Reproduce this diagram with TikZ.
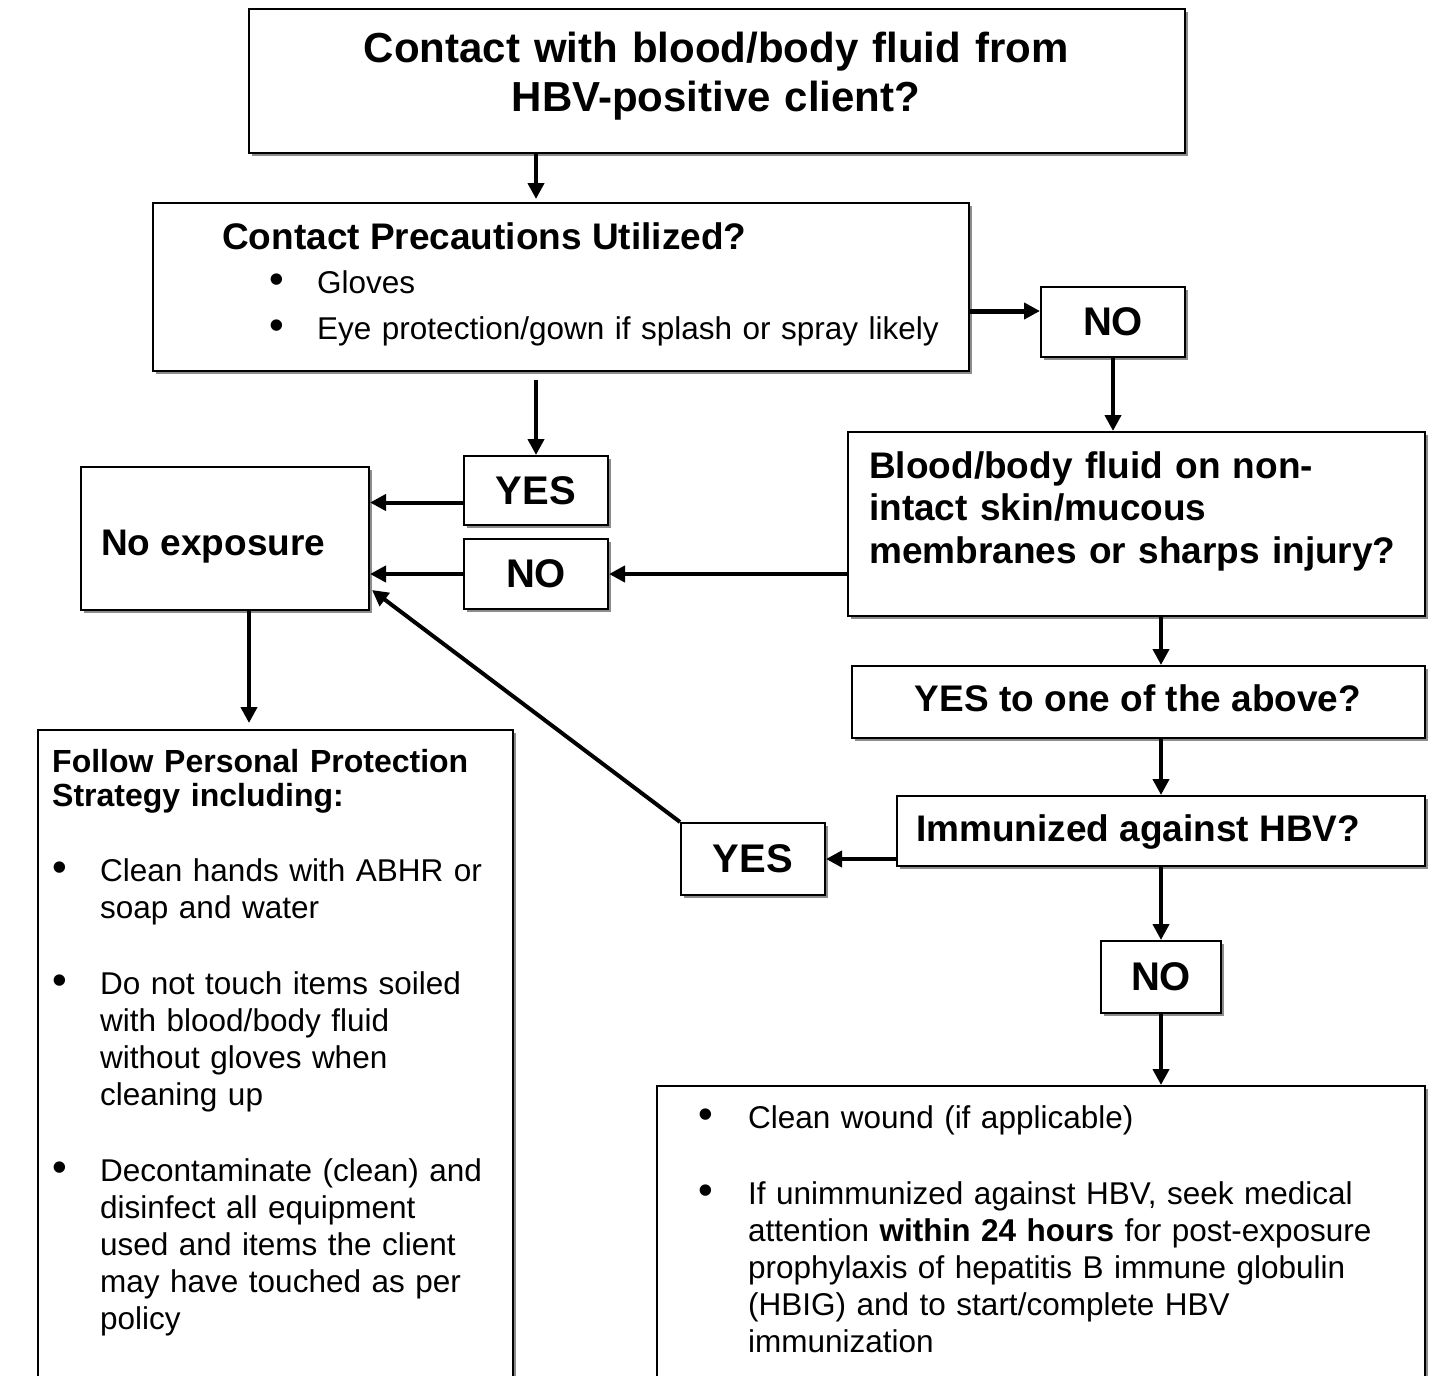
\documentclass[tikz,border=0pt]{standalone}
\usepackage{fontspec}
\setmainfont{Liberation Sans}
\usetikzlibrary{arrows.meta,calc,shadows}
\newcommand\myfs[2]{\fontsize{#1}{#2}\selectfont}
\tikzset{
  box/.style={draw, line width=2pt, fill=white, anchor=north west, inner sep=0pt,
    drop shadow={shadow xshift=2.5pt, shadow yshift=-2.5pt, fill=black!45, opacity=1}},
  lbl/.style={font=\bfseries\myfs{40}{46}},
  arr/.style={line width=4pt, -{Triangle[length=16pt,width=16pt]}},
  txt/.style={anchor=base west, inner sep=0pt, align=left},
  bul/.style={anchor=base, inner sep=0pt, font=\myfs{42}{37}},
}
\begin{document}
\begin{tikzpicture}[x=1pt,y=-1pt]
\useasboundingbox (0,0) rectangle (1430,1376);
\clip (0,0) rectangle (1430,1376);
\fill[white] (0,0) rectangle (1430,1376);

% boxes
\node[box, minimum width=936pt, minimum height=144pt] (title) at (248,8) {};
\node[box, minimum width=816pt, minimum height=168pt] (prec) at (152,202) {};
\node[box, lbl, minimum width=144pt, minimum height=70pt] (no1) at (1040,286) {NO};
\node[box, minimum width=577pt, minimum height=184pt] (blood) at (847,431) {};
\node[box, lbl, minimum width=144pt, minimum height=69pt] (yes1) at (463,455) {YES};
\node[box, lbl, minimum width=144pt, minimum height=70pt] (no2) at (463,538) {NO};
\node[box, minimum width=288pt, minimum height=143pt] (noexp) at (80,466) {};
\node[box, minimum width=475pt, minimum height=680pt] (pps) at (37,729) {};
\node[box, minimum width=573pt, minimum height=72pt] (yesone) at (851,665) {};
\node[box, minimum width=528pt, minimum height=70pt] (immun) at (896,795) {};
\node[box, lbl, minimum width=144pt, minimum height=72pt] (yes2) at (680,822) {YES};
\node[box, lbl, minimum width=120pt, minimum height=72pt] (no3) at (1100,940) {NO};
\node[box, minimum width=768pt, minimum height=330pt] (action) at (656,1085) {};

% texts
\node[txt, anchor=base, text width=900pt, align=center, font=\bfseries\myfs{42}{49}] (titletext) at (716,62)
  {Contact with blood/body fluid from\\HBV-positive client?};
\node[txt, font=\bfseries\myfs{37}{43}] (prectext) at (222,249) {Contact Precautions Utilized?};
\node[bul] (pb1) at (277,293) {•};
\node[bul] (pb2) at (277,339) {•};
\node[txt, text width=640pt, font=\myfs{31.5}{46}] (prectext2) at (317,293) {Gloves\\Eye protection/gown if splash or spray likely};
\node[txt, text width=560pt, font=\bfseries\myfs{37}{42.5}] (bloodtext) at (869,478)
  {Blood/body fluid on non-\\intact skin/mucous\\membranes or sharps injury?};
\node[txt, font=\bfseries\myfs{37}{43}] (noexptext) at (101,555) {No exposure};
\node[txt, anchor=base, font=\bfseries\myfs{37}{43}] (yesonetext) at (1138,711) {YES to one of the above?};
\node[txt, font=\bfseries\myfs{37}{43}] (immuntext) at (916,841) {Immunized against HBV?};
\node[txt, text width=460pt, font=\bfseries\myfs{32}{34}] (ppshead) at (52,772)
  {Follow Personal Protection\\Strategy including:};
\node[bul] (lb1) at (60,881) {•};
\node[bul] (lb2) at (60,994) {•};
\node[bul] (lb3) at (60,1181) {•};
\node[txt, text width=420pt, font=\myfs{31.5}{37}] (ppstext) at (100,881)
  {Clean hands with ABHR or\\soap and water\\[39pt]
   Do not touch items soiled\\with blood/body fluid\\without gloves when\\cleaning up\\[39pt]
   Decontaminate (clean) and\\disinfect all equipment\\used and items the client\\may have touched as per\\policy};
\node[bul] (rb1) at (706,1128) {•};
\node[bul] (rb2) at (706,1204) {•};
\node[txt, text width=670pt, font=\myfs{31.5}{37}] (actiontext) at (748,1128)
  {Clean wound (if applicable)\\[39pt]
   If unimmunized against HBV, seek medical\\attention \textbf{within 24 hours} for post-exposure\\prophylaxis of hepatitis B immune globulin\\(HBIG) and to start/complete HBV\\immunization};

% connectors
\draw[arr] (title.south -| yes1.north) -- ([yshift=3pt]prec.north -| yes1.north);
\coordinate (pbot) at ($(prec.south -| yes1.north)+(0,8)$);
\draw[arr] (pbot) -- (yes1.north);
\coordinate (nl) at ($(no1.west)+(0,-11)$);
\draw[arr, line width=5pt] (prec.east |- nl) -- (nl);
\draw[arr] (no1.south) -- (no1.south |- blood.north);
\coordinate (yl) at ($(yes1.west)+(0,12)$);
\draw[arr] (yl) -- (yl -| noexp.east);
\draw[arr] (no2.west) -- (no2.west -| noexp.east);
\draw[arr] (blood.west |- no2.east) -- (no2.east);
\coordinate (dg) at ($(noexp.south east)+(2,-21)$);
\draw[arr] (yes2.north west) -- (dg);
\coordinate (nb) at ($(noexp.south)+(24,0)$);
\draw[arr, shorten >=6pt] (nb) -- (nb |- pps.north);
\draw[arr] (blood.south -| no3.north) -- (yesone.north -| no3.north);
\draw[arr] (yesone.south -| no3.north) -- (immun.north -| no3.north);
\draw[arr] (immun.south -| no3.north) -- (no3.north);
\draw[arr] (no3.south) -- (action.north -| no3.south);
\draw[arr] (immun.west |- yes2.east) -- (yes2.east);
\end{tikzpicture}
\end{document}
